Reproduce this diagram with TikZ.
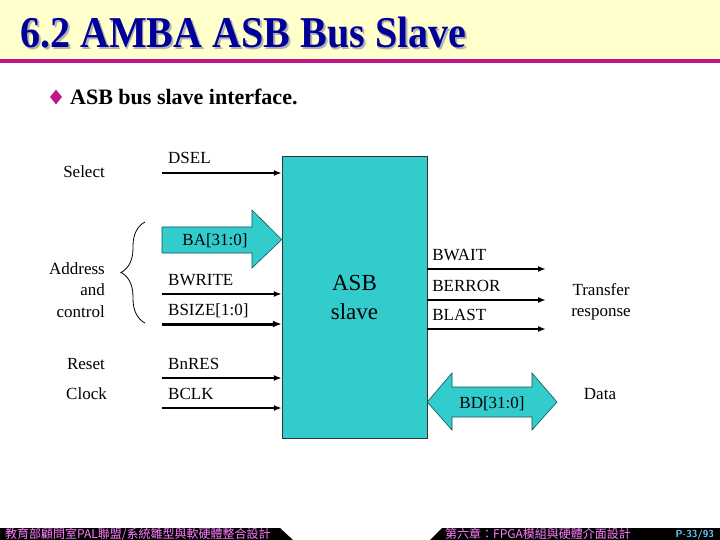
\documentclass[tikz,border=0pt]{standalone}
\usepackage{fontspec}
\setmainfont{Liberation Serif}
\newfontfamily\cjkfont{Noto Sans CJK TC}
\usetikzlibrary{arrows.meta,decorations.pathreplacing,calc,positioning,shapes.geometric}
\definecolor{hdryellow}{RGB}{255,255,204}
\definecolor{hdrline}{RGB}{192,20,140}
\definecolor{slavecyan}{RGB}{51,204,204}
\definecolor{titleblue}{RGB}{0,0,153}
\definecolor{footpink}{RGB}{255,128,255}
\definecolor{footblue}{RGB}{102,204,255}
\newcommand{\shadowtext}[1]{\makebox[0pt][l]{\hspace{2pt}\raisebox{-2pt}{\textcolor{gray!60}{#1}}}#1}
\tikzset{
  sig/.style={line width=2pt,-{Latex[length=8pt,width=6pt]}},
  widesig/.style={line width=3pt,-{Latex[length=9pt,width=7pt]}},
  lbl/.style={font=\fontsize{17}{21.5}\selectfont,inner sep=0pt},
  busarrow/.style={fill=slavecyan,draw=slavecyan!40!black,line width=0.6pt},
  foottext/.style={font=\cjkfont\fontsize{12}{12}\selectfont,text=footpink,inner sep=0pt,anchor=west},
}

\begin{document}
\begin{tikzpicture}[x=1pt,y=-1pt]
  \useasboundingbox (0,0) rectangle (720,540);
  % header
  \fill[hdryellow] (0,0) rectangle (720,59);
  \fill[hdrline] (0,59) rectangle (720,63);
  \node[anchor=base west,inner sep=0pt,text=titleblue,font=\bfseries\fontsize{44}{44}\selectfont,xscale=0.91] (title) at (20,48) {\shadowtext{6.2 AMBA ASB Bus Slave}};
  \node[diamond,fill=hdrline,minimum width=12pt,minimum height=15pt,inner sep=0pt] (bullet) at (56,97) {};
  \node[anchor=base west,inner sep=0pt,font=\bfseries\fontsize{22}{22}\selectfont] (intro) at (70,105) {ASB bus slave interface.};

  % slave block
  \node[draw=black!80,fill=slavecyan,minimum width=145pt,minimum height=282pt,align=center,
        font=\fontsize{23}{29}\selectfont,inner sep=0pt] (slave) at (354.5,297) {ASB\\slave};

  % inputs
  \foreach \nm/\y/\txt in {dsel/173/DSEL,bwrite/294/BWRITE,bnres/378/BnRES,bclk/408/BCLK}{
    \coordinate (\nm-in) at (162,\y);
    \draw[sig] (\nm-in) -- (\nm-in -| slave.west);
    \node[lbl,anchor=base west] (\nm-lbl) at ($(\nm-in)+(6,-9)$) {\txt};
  }
  \coordinate (bsize-in) at (162,324);
  \draw[widesig] (bsize-in) -- (bsize-in -| slave.west);
  \node[lbl,anchor=base west] (bsize-lbl) at ($(bsize-in)+(6,-9)$) {BSIZE[1:0]};

  % address bus
  \draw[busarrow] (162,227) -- (252,227) -- (252,210) -- (slave.west |- 0,239.5)
        -- (252,268) -- (252,253) -- (162,253) -- cycle;
  \node[lbl] (ba-lbl) at (215,241) {BA[31:0]};

  % outputs
  \foreach \nm/\y/\txt in {bwait/269/BWAIT,berror/300/BERROR,blast/329/BLAST}{
    \coordinate (\nm-out) at (546,\y);
    \coordinate (\nm-src) at (slave.east |- \nm-out);
    \draw[sig] (\nm-src) -- (\nm-out);
    \node[lbl,anchor=base west] (\nm-lbl) at ($(\nm-src)+(5,-9)$) {\txt};
  }

  % data bus
  \draw[busarrow] (slave.east |- 0,402) -- (452,373) -- (452,387) -- (532,387) -- (532,373)
        -- (557,402) -- (532,430) -- (532,417) -- (452,417) -- (452,430) -- cycle;
  \node[lbl] (bd-lbl) at (492,404) {BD[31:0]};

  % group labels
  \node[lbl,anchor=east] (select) at (105,172) {Select};
  \node[lbl,anchor=east,align=right] (addr) at (105,290) {Address\\and\\control};
  \node[lbl,anchor=east] (reset) at (105,364) {Reset};
  \node[lbl,anchor=east] (clock) at (107,394) {Clock};
  \draw[line width=0.8pt,decorate,decoration={brace,amplitude=24pt}] (145,323) -- (145,222);
  \node[lbl,align=center] (resp) at (601,302) {Transfer\\response};
  \node[lbl] (data) at (600,394) {Data};

  % footer
  \fill[black] (0,528) -- (280,528) -- (293,540) -- (0,540) -- cycle;
  \fill[black] (442,528) -- (720,528) -- (720,540) -- (430,540) -- cycle;
  \node[foottext] (foot-left) at (5,534) {教育部顧問室PAL聯盟/系統雛型與軟硬體整合設計};
  \node[foottext] (foot-right) at (445,534) {第六章：FPGA模組與硬體介面設計};
  \node[anchor=east,inner sep=0pt,text=footblue,font=\sffamily\bfseries\fontsize{10}{10}\selectfont] (page-no) at (714,535) {P-33/93};
\end{tikzpicture}
\end{document}
